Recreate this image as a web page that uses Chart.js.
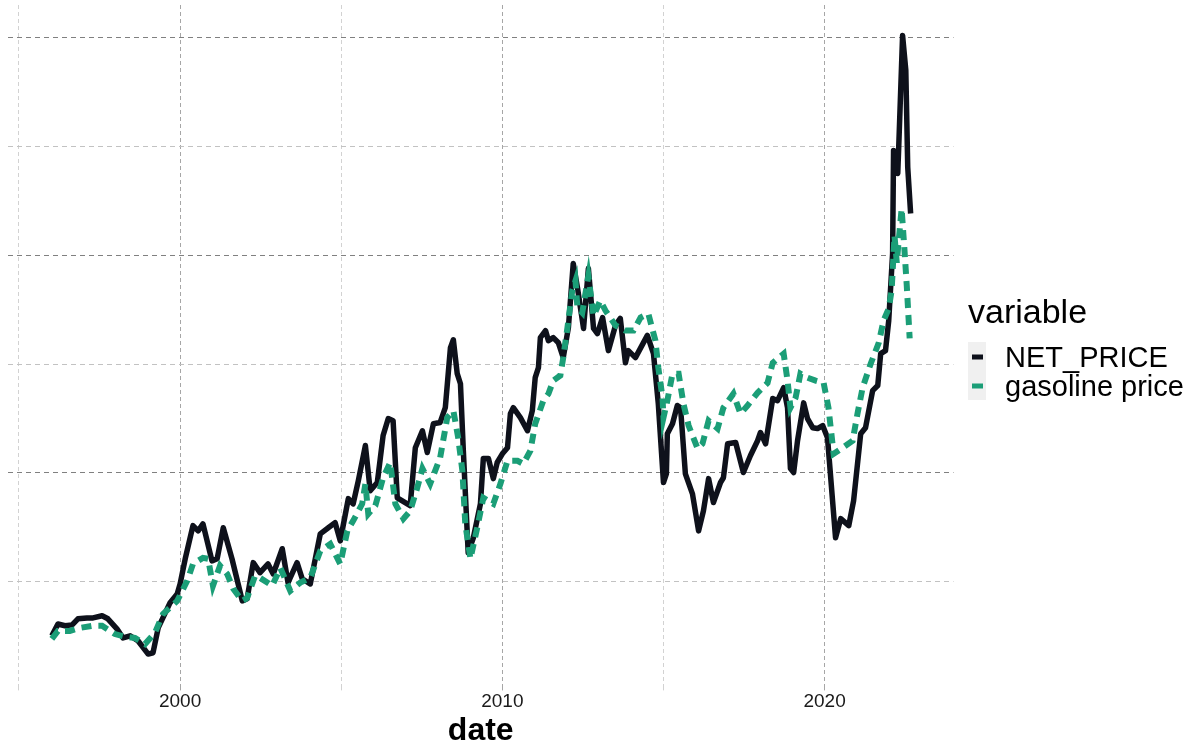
<!DOCTYPE html>
<html>
<head>
<meta charset="utf-8">
<script src="https://cdn.jsdelivr.net/npm/chart.js@4.4.1/dist/chart.umd.min.js"></script>
<style>
  html, body { margin: 0; padding: 0; background: #fff; }
  canvas { display: block; }
</style>
</head>
<body>
<canvas id="c" width="1200" height="750"></canvas>
<script>
// NET_PRICE (decimal year, value)
var netDates = [1996.02,1996.21,1996.43,1996.65,1996.83,1997.11,1997.30,1997.58,1997.76,1998.04,
  1998.23,1998.45,1998.70,1999.01,1999.16,1999.32,1999.69,1999.91,2000.00,2000.16,
  2000.40,2000.56,2000.71,2000.99,2001.15,2001.34,2001.61,2001.93,2002.08,2002.27,
  2002.48,2002.73,2002.89,2003.17,2003.35,2003.63,2003.79,2004.04,2004.35,2004.60,
  2004.81,2004.97,2005.22,2005.37,2005.53,2005.75,2005.90,2006.12,2006.30,2006.46,
  2006.61,2006.74,2007.05,2007.14,2007.30,2007.52,2007.67,2007.86,2008.07,2008.23,
  2008.39,2008.48,2008.60,2008.70,2008.79,2008.94,2009.10,2009.32,2009.41,2009.57,
  2009.72,2009.84,2010.00,2010.16,2010.25,2010.34,2010.56,2010.78,2010.93,2011.02,
  2011.12,2011.18,2011.34,2011.43,2011.58,2011.74,2011.89,2012.05,2012.20,2012.33,
  2012.52,2012.67,2012.83,2012.95,2013.11,2013.29,2013.51,2013.66,2013.82,2013.91,
  2014.13,2014.50,2014.69,2014.84,2015.00,2015.09,2015.12,2015.28,2015.43,2015.53,
  2015.68,2015.90,2016.09,2016.24,2016.40,2016.55,2016.77,2016.86,2016.99,2017.24,
  2017.48,2017.70,2017.92,2018.01,2018.17,2018.39,2018.54,2018.73,2018.85,2018.94,
  2019.04,2019.16,2019.35,2019.47,2019.63,2019.78,2019.94,2020.09,2020.34,2020.50,
  2020.75,2020.90,2021.12,2021.27,2021.49,2021.65,2021.74,2021.89,2021.99,2022.11,
  2022.14,2022.27,2022.30,2022.42,2022.52,2022.58,2022.67];
var netPrice = [0.126,0.153,0.149,0.151,0.165,0.167,0.167,0.172,0.165,0.142,
  0.121,0.126,0.114,0.084,0.087,0.144,0.202,0.222,0.245,0.303,
  0.379,0.367,0.383,0.298,0.303,0.374,0.303,0.206,0.211,0.294,
  0.271,0.291,0.268,0.326,0.248,0.294,0.257,0.245,0.360,0.374,
  0.386,0.344,0.441,0.429,0.482,0.563,0.459,0.478,0.586,0.625,
  0.620,0.443,0.429,0.425,0.558,0.597,0.547,0.613,0.616,0.650,
  0.788,0.806,0.728,0.705,0.551,0.317,0.351,0.429,0.533,0.533,
  0.487,0.524,0.544,0.558,0.636,0.650,0.627,0.597,0.643,0.719,
  0.742,0.811,0.827,0.804,0.811,0.799,0.765,0.834,0.981,0.926,
  0.832,0.970,0.832,0.820,0.857,0.781,0.839,0.855,0.753,0.781,
  0.765,0.816,0.774,0.659,0.478,0.498,0.590,0.613,0.655,0.650,
  0.498,0.452,0.367,0.413,0.487,0.432,0.478,0.489,0.567,0.570,
  0.501,0.540,0.574,0.593,0.567,0.671,0.666,0.696,0.650,0.510,
  0.501,0.574,0.661,0.625,0.604,0.602,0.609,0.581,0.351,0.395,
  0.379,0.436,0.590,0.604,0.689,0.701,0.774,0.781,0.850,1.004,
  1.241,1.188,1.248,1.505,1.425,1.202,1.096];

// gasoline price
var gasDates = [1996.02,1996.21,1996.58,1996.89,1997.30,1997.58,1997.98,1998.29,1998.60,1998.91,
  1999.22,1999.47,1999.91,2000.22,2000.40,2000.71,2000.87,2001.02,2001.24,2001.46,
  2001.65,2001.93,2002.08,2002.33,2002.48,2002.86,2003.11,2003.42,2003.73,2004.04,
  2004.35,2004.66,2004.97,2005.19,2005.37,2005.65,2005.75,2005.84,2006.06,2006.30,
  2006.52,2006.68,2006.93,2007.14,2007.36,2007.52,2007.76,2008.07,2008.29,2008.48,
  2008.63,2008.76,2008.85,2009.01,2009.22,2009.41,2009.72,2009.94,2010.16,2010.47,
  2010.65,2010.87,2011.02,2011.27,2011.43,2011.58,2011.80,2011.89,2012.02,2012.17,
  2012.27,2012.33,2012.48,2012.67,2012.83,2013.04,2013.20,2013.51,2013.82,2014.07,
  2014.29,2014.53,2014.75,2014.84,2014.97,2015.00,2015.12,2015.28,2015.47,2015.62,
  2015.78,2016.06,2016.21,2016.40,2016.68,2016.86,2017.17,2017.39,2017.61,2017.92,
  2018.23,2018.39,2018.73,2018.85,2018.94,2019.10,2019.25,2019.47,2019.72,2019.97,
  2020.12,2020.28,2020.56,2020.87,2021.02,2021.18,2021.43,2021.68,2021.83,2021.99,
  2022.08,2022.17,2022.24,2022.30,2022.39,2022.48,2022.55,2022.64];
var gasPrice = [0.119,0.137,0.137,0.144,0.149,0.149,0.130,0.124,0.121,0.107,
  0.133,0.176,0.206,0.252,0.291,0.305,0.303,0.241,0.287,0.268,
  0.234,0.206,0.213,0.264,0.259,0.241,0.282,0.229,0.248,0.259,
  0.321,0.337,0.291,0.367,0.390,0.429,0.475,0.406,0.425,0.489,
  0.524,0.429,0.395,0.413,0.466,0.510,0.475,0.535,0.627,0.643,
  0.581,0.505,0.383,0.303,0.374,0.443,0.429,0.475,0.528,0.528,
  0.521,0.551,0.613,0.666,0.682,0.712,0.724,0.765,0.834,0.919,
  0.942,0.880,0.868,0.953,0.861,0.896,0.873,0.839,0.827,0.827,
  0.857,0.866,0.804,0.742,0.673,0.627,0.666,0.728,0.728,0.659,
  0.609,0.556,0.567,0.620,0.602,0.650,0.682,0.636,0.655,0.684,
  0.707,0.753,0.774,0.712,0.650,0.673,0.728,0.719,0.712,0.707,
  0.650,0.544,0.558,0.574,0.636,0.696,0.751,0.799,0.850,0.878,
  0.919,1.045,0.983,1.034,1.107,1.011,0.930,0.809];

var seriesNames = ["NET_PRICE", "gasoline price"];
var seriesColors = ["#0e111b", "#1b9e77"];
var xTicks = [1995, 2000, 2005, 2010, 2015, 2020];
var yTicks = [0.25, 0.5, 0.75, 1.0, 1.25, 1.5];
var legendTitle = "variable";

var fam = '"Liberation Sans", Arial, Helvetica, sans-serif';
Chart.defaults.font.family = fam;

function isMajorX(v) { return v % 10 === 0; }
function isMajorY(v) { return Math.abs(v * 2 - Math.round(v * 2)) < 1e-6; }

function pairs(xs, ys) {
  return xs.map(function (x, i) { return { x: x, y: ys[i] }; });
}

// ggplot-like legend on the right
var ggLegend = {
  id: 'ggLegend',
  afterDraw: function (chart) {
    var ctx = chart.ctx;
    ctx.save();
    ctx.textBaseline = 'alphabetic';
    ctx.fillStyle = '#000';
    ctx.font = '34px ' + fam;
    ctx.fillText(legendTitle, 968, 323);
    ctx.fillStyle = '#f0f0f0';
    ctx.fillRect(968, 342, 18, 58);
    seriesNames.forEach(function (name, i) {
      var y = 357 + i * 29;
      ctx.strokeStyle = seriesColors[i];
      ctx.lineWidth = 5;
      ctx.beginPath();
      ctx.moveTo(972, y);
      ctx.lineTo(983, y);
      ctx.stroke();
      ctx.fillStyle = '#000';
      ctx.font = '29px ' + fam;
      ctx.fillText(name, 1005, y + 10);
    });
    ctx.restore();
  }
};

var ctx = document.getElementById('c').getContext('2d');
var chart = new Chart(ctx, {
  type: 'line',
  data: {
    datasets: [{
      label: seriesNames[0],
      data: pairs(netDates, netPrice),
      borderColor: seriesColors[0],
      backgroundColor: seriesColors[0],
      borderWidth: 5.5,
      borderJoinStyle: 'round',
      pointRadius: 0,
      tension: 0,
      order: 1
    }, {
      label: seriesNames[1],
      data: pairs(gasDates, gasPrice),
      borderColor: seriesColors[1],
      backgroundColor: seriesColors[1],
      borderWidth: 6,
      borderDash: [10, 7],
      borderCapStyle: 'butt',
      pointRadius: 0,
      tension: 0,
      order: 0
    }]
  },
  options: {
    responsive: false,
    animation: false,
    layout: { padding: { left: 8, right: 246.5, top: 5, bottom: 0 } },
    plugins: { legend: { display: false }, tooltip: { enabled: false } },
    scales: {
      x: {
        type: 'linear',
        min: 1994.66,
        max: 2024.0,
        afterBuildTicks: function (axis) {
          axis.ticks = xTicks.map(function (v) { return { value: v }; });
        },
        ticks: {
          autoSkip: false,
          maxRotation: 0,
          padding: 0,
          color: '#1a1a1a',
          font: { size: 19 },
          callback: function (v) { return isMajorX(v) ? String(v) : ''; }
        },
        grid: {
          color: function (c) { return c.tick && isMajorX(c.tick.value) ? '#a6a6a6' : '#d2d2d2'; },
          lineWidth: 1,
          drawTicks: true,
          tickLength: 5
        },
        border: { display: false, dash: [4, 3] },
        title: {
          display: true,
          text: 'date',
          color: '#000',
          font: { size: 32, weight: 'bold', lineHeight: 1.15 },
          padding: { top: 0, bottom: 0 }
        }
      },
      y: {
        min: 0.012,
        max: 1.575,
        afterBuildTicks: function (axis) {
          axis.ticks = yTicks.map(function (v) { return { value: v }; });
        },
        ticks: { display: false },
        grid: {
          color: function (c) { return c.tick && isMajorY(c.tick.value) ? '#808080' : '#c2c2c2'; },
          lineWidth: 1,
          drawTicks: false
        },
        border: { display: false, dash: [5, 4] }
      }
    }
  },
  plugins: [ggLegend]
});
</script>
</body>
</html>
